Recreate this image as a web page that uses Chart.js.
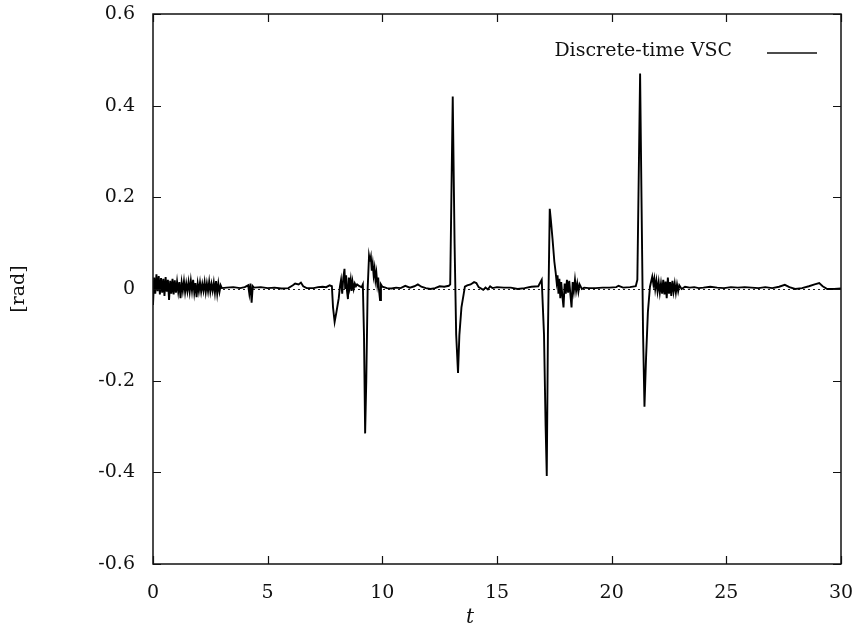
<!DOCTYPE html>
<html>
<head>
<meta charset="utf-8">
<script src="https://cdn.jsdelivr.net/npm/chart.js@4.4.1/dist/chart.umd.min.js"></script>
<style>
  html, body { margin: 0; padding: 0; background: #fff; }
  #wrap { width: 862px; height: 636px; }
</style>
</head>
<body>
<div id="wrap"><canvas id="myChart" width="862" height="636"></canvas></div>
<script>
var timeS = [
  0, 0.05, 0.1, 0.15, 0.2, 0.25, 0.3, 0.35, 0.4, 0.45, 0.5, 0.55, 0.6, 0.65, 0.7, 0.75, 0.8, 0.85, 0.9, 0.95,
  1.0, 1.05, 1.1, 1.15, 1.2, 1.25, 1.3, 1.35, 1.4, 1.45, 1.5, 1.55, 1.6, 1.65, 1.7, 1.75, 1.8, 1.85, 1.9, 1.95,
  2.0, 2.05, 2.1, 2.15, 2.2, 2.25, 2.3, 2.35, 2.4, 2.45, 2.5, 2.55, 2.6, 2.65, 2.7, 2.75, 2.8, 2.85, 2.9, 2.95, 3.0,
  3.2, 3.5, 3.8, 4.0, 4.15, 4.2, 4.25, 4.3, 4.35, 4.4, 4.7, 5.0, 5.3, 5.6, 5.9, 6.1, 6.2, 6.35, 6.45, 6.55, 6.7,
  7.0, 7.2, 7.4, 7.55, 7.7, 7.8, 7.85, 7.92, 8.0, 8.1, 8.15,
  8.2, 8.25, 8.3, 8.35, 8.38, 8.42, 8.46, 8.5, 8.54, 8.58, 8.62, 8.66, 8.7, 8.75, 8.8, 8.85, 8.9, 9.0, 9.1, 9.15,
  9.2, 9.25, 9.3, 9.36, 9.42, 9.46, 9.5, 9.54, 9.58, 9.62, 9.66, 9.7, 9.74, 9.78, 9.82, 9.86, 9.9, 9.94, 10.0,
  10.2, 10.4, 10.6, 10.8, 11.0, 11.2, 11.4, 11.55, 11.7, 11.9, 12.1, 12.3, 12.5, 12.7, 12.9, 12.96,
  13.07, 13.15, 13.22, 13.3, 13.36, 13.45, 13.55, 13.6, 13.7, 13.85, 14.0, 14.1, 14.2, 14.4, 14.5, 14.6, 14.7, 14.8,
  15.0, 15.3, 15.6, 15.9, 16.2, 16.5, 16.8, 16.95,
  17.05, 17.12, 17.17, 17.22, 17.3, 17.35, 17.42, 17.5, 17.56, 17.6,
  17.64, 17.68, 17.72, 17.76, 17.8, 17.85, 17.9, 17.95, 18.0, 18.05, 18.1, 18.15, 18.2, 18.25, 18.3, 18.35, 18.4,
  18.45, 18.5, 18.55, 18.6, 18.7, 18.8,
  19.0, 19.3, 19.6, 19.9, 20.2, 20.3, 20.5, 20.8, 21.05, 21.12,
  21.24, 21.3, 21.37, 21.43, 21.5, 21.58, 21.67, 21.77, 21.82, 21.86, 21.9, 21.95, 22.0, 22.05, 22.1, 22.15, 22.2,
  22.25, 22.3, 22.35, 22.4, 22.45, 22.5, 22.55, 22.6, 22.65, 22.7, 22.75, 22.8, 22.85, 22.9, 22.95, 23.05,
  23.2, 23.4, 23.6, 23.8, 24.0, 24.3, 24.6, 24.9, 25.2, 25.5, 25.8, 26.1, 26.4, 26.7, 27.0, 27.3, 27.55, 27.75,
  28.0, 28.3, 28.6, 28.85, 29.05, 29.2, 29.4, 29.7, 30.0
];
var angleRad = [
  -0.035, 0.025, -0.01, 0.032, -0.005, 0.028, -0.012, 0.024, -0.008, 0.022, -0.015, 0.026, -0.006, 0.02, -0.024, 0.018, -0.01, 0.022, -0.012, 0.019,
  -0.008, 0.016, -0.006, 0.015, -0.02, 0.014, -0.004, 0.017, -0.007, 0.012, -0.005, 0.015, -0.006, 0.018, -0.004, 0.02, -0.008, 0.013, -0.018, 0.012,
  -0.005, 0.014, -0.006, 0.011, -0.004, 0.015, -0.007, 0.012, -0.005, 0.016, -0.006, 0.011, -0.004, 0.014, -0.008, 0.017, -0.01, 0.012, -0.006, 0.008, 0.002,
  0.003, 0.004, 0.002, 0.004, 0.008, -0.01, 0.012, -0.03, 0.006, 0.003, 0.004, 0.002, 0.003, 0.001, 0.002, 0.008, 0.012, 0.01, 0.014, 0.006, 0.002,
  0.002, 0.004, 0.005, 0.004, 0.008, 0.006, -0.04, -0.072, -0.05, -0.02, 0.005,
  0.02, -0.01, 0.025, 0.044, 0.0, 0.03, -0.005, -0.022, 0.025, 0.005, 0.02, -0.004, 0.016, 0.0, 0.012, 0.006, 0.01, 0.006, 0.004, 0.01,
  -0.1, -0.315, -0.2, 0.0, 0.072, 0.06, 0.07, 0.04, 0.055, 0.03, 0.045, 0.02, 0.035, 0.01, 0.025, -0.005, -0.024, 0.01, 0.005,
  0.002, 0.001, 0.003, 0.002, 0.007, 0.003, 0.006, 0.01, 0.005, 0.002, 0.0, 0.002, 0.006, 0.005, 0.007, 0.01,
  0.42, 0.1, -0.1, -0.183, -0.1, -0.04, -0.01, 0.005, 0.008, 0.01, 0.015, 0.013, 0.004, -0.002, 0.003, -0.001, 0.006, 0.002,
  0.004, 0.003, 0.003, 0.0, 0.002, 0.005, 0.006, 0.02,
  -0.1, -0.3, -0.408, -0.1, 0.175, 0.15, 0.11, 0.06, 0.035, 0.015,
  0.03, -0.01, 0.022, -0.02, 0.015, -0.015, -0.04, 0.012, -0.01, 0.02, -0.008, 0.018, -0.012, -0.04, 0.015, -0.005, 0.02,
  -0.004, 0.012, -0.006, 0.01, 0.0, 0.003,
  0.002, 0.002, 0.003, 0.003, 0.004, 0.007, 0.003, 0.004, 0.006, 0.02,
  0.47, 0.2, -0.1, -0.257, -0.15, -0.05, 0.005, 0.027, 0.01, 0.022, 0.0, 0.018, -0.005, 0.015, -0.008, 0.012, -0.01,
  0.02, -0.012, 0.016, -0.02, 0.025, -0.01, 0.015, -0.015, 0.018, -0.006, 0.012, -0.008, 0.01, -0.005, 0.008, 0.0,
  0.005, 0.003, 0.004, 0.002, 0.003, 0.005, 0.003, 0.002, 0.004, 0.003, 0.004, 0.003, 0.002, 0.004, 0.002, 0.005, 0.009, 0.004,
  0.0, 0.002, 0.006, 0.01, 0.013, 0.006, 0.0, 0.0, 0.001
];
var xTicks = [0, 5, 10, 15, 20, 25, 30];
var yTicks = [-0.6, -0.4, -0.2, 0, 0.2, 0.4, 0.6];
var yTickLabels = ["-0.6", "-0.4", "-0.2", "0", "0.2", "0.4", "0.6"];
var seriesName = "Discrete-time VSC";
var xTitle = "t";

var serif = "'DejaVu Serif', 'Liberation Serif', serif";

const points = timeS.map(function (t, i) { return { x: t, y: angleRad[i] }; });

// gnuplot look: full frame, inward ticks, dotted zero line, legend in the corner
const framePlugin = {
  id: "frame",
  beforeDatasetsDraw: function (chart) {
    const ctx = chart.ctx;
    const xs = chart.scales.x, ys = chart.scales.y;
    ctx.save();
    ctx.strokeStyle = "#222";
    ctx.lineWidth = 1;
    ctx.setLineDash([2, 3]);
    ctx.beginPath();
    ctx.moveTo(xs.getPixelForValue(0), ys.getPixelForValue(0) + 0.5);
    ctx.lineTo(xs.getPixelForValue(30), ys.getPixelForValue(0) + 0.5);
    ctx.stroke();
    ctx.restore();
  },
  afterDraw: function (chart) {
    const ctx = chart.ctx;
    const a = chart.chartArea;
    const xs = chart.scales.x, ys = chart.scales.y;
    const tl = 8;
    ctx.save();
    ctx.strokeStyle = "#111";
    ctx.lineWidth = 1.5;
    ctx.strokeRect(a.left, a.top, a.right - a.left, a.bottom - a.top);
    ctx.lineWidth = 1.2;
    ctx.beginPath();
    xTicks.forEach(function (v) {
      const px = Math.round(xs.getPixelForValue(v)) + 0.5;
      ctx.moveTo(px, a.bottom); ctx.lineTo(px, a.bottom - tl);
      ctx.moveTo(px, a.top); ctx.lineTo(px, a.top + tl);
    });
    yTicks.forEach(function (v) {
      const py = Math.round(ys.getPixelForValue(v)) + 0.5;
      ctx.moveTo(a.left, py); ctx.lineTo(a.left + tl, py);
      ctx.moveTo(a.right, py); ctx.lineTo(a.right - tl, py);
    });
    ctx.stroke();

    // x axis label sits a bit left of the plot centre in the original
    ctx.fillStyle = "#111";
    ctx.font = "italic 20px " + serif;
    ctx.textAlign = "center";
    ctx.textBaseline = "middle";
    ctx.fillText(xTitle, 470, 618);

    // legend
    ctx.font = "19px " + serif;
    ctx.textAlign = "right";
    ctx.fillText(seriesName, 732, 51);
    ctx.lineWidth = 1.5;
    ctx.beginPath();
    ctx.moveTo(767, 53);
    ctx.lineTo(817, 53);
    ctx.stroke();
    ctx.restore();
  }
};

const ctx = document.getElementById("myChart").getContext("2d");

const myChart = new Chart(ctx, {
  type: "line",
  data: {
    datasets: [
      {
        label: seriesName,
        data: points,
        borderColor: "#000",
        borderWidth: 1.9,
        pointRadius: 0,
        tension: 0,
        fill: false,
      },
    ],
  },
  options: {
    responsive: false,
    animation: false,
    layout: { padding: { top: 14, right: 21, left: 0, bottom: 0 } },
    plugins: {
      legend: { display: false },
      tooltip: { enabled: false },
    },
    scales: {
      x: {
        type: "linear",
        min: 0,
        max: 30,
        afterBuildTicks: function (axis) {
          axis.ticks = xTicks.map(function (v) { return { value: v }; });
        },
        afterFit: function (axis) {
          axis.height = 72;
          axis.paddingLeft = 0;
          axis.paddingRight = 0;
        },
        grid: { display: false, drawTicks: false },
        border: { display: false },
        ticks: {
          color: "#111",
          padding: 18,
          maxRotation: 0,
          font: { family: serif, size: 19 },
        },
      },
      y: {
        type: "linear",
        min: -0.6,
        max: 0.6,
        afterBuildTicks: function (axis) {
          axis.ticks = yTicks.map(function (v) { return { value: v }; });
        },
        afterFit: function (axis) {
          axis.width = 153;
          axis.paddingTop = 0;
          axis.paddingBottom = 0;
        },
        grid: { display: false, drawTicks: false },
        border: { display: false },
        ticks: {
          color: "#111",
          padding: 18,
          font: { family: serif, size: 19 },
          callback: function (value, index) {
            return yTickLabels[index];
          },
        },
        title: {
          display: true,
          text: "[rad]",
          color: "#111",
          padding: { top: 8, bottom: 0 },
          font: { family: serif, size: 19 },
        },
      },
    },
  },
  plugins: [framePlugin],
});
</script>
</body>
</html>
